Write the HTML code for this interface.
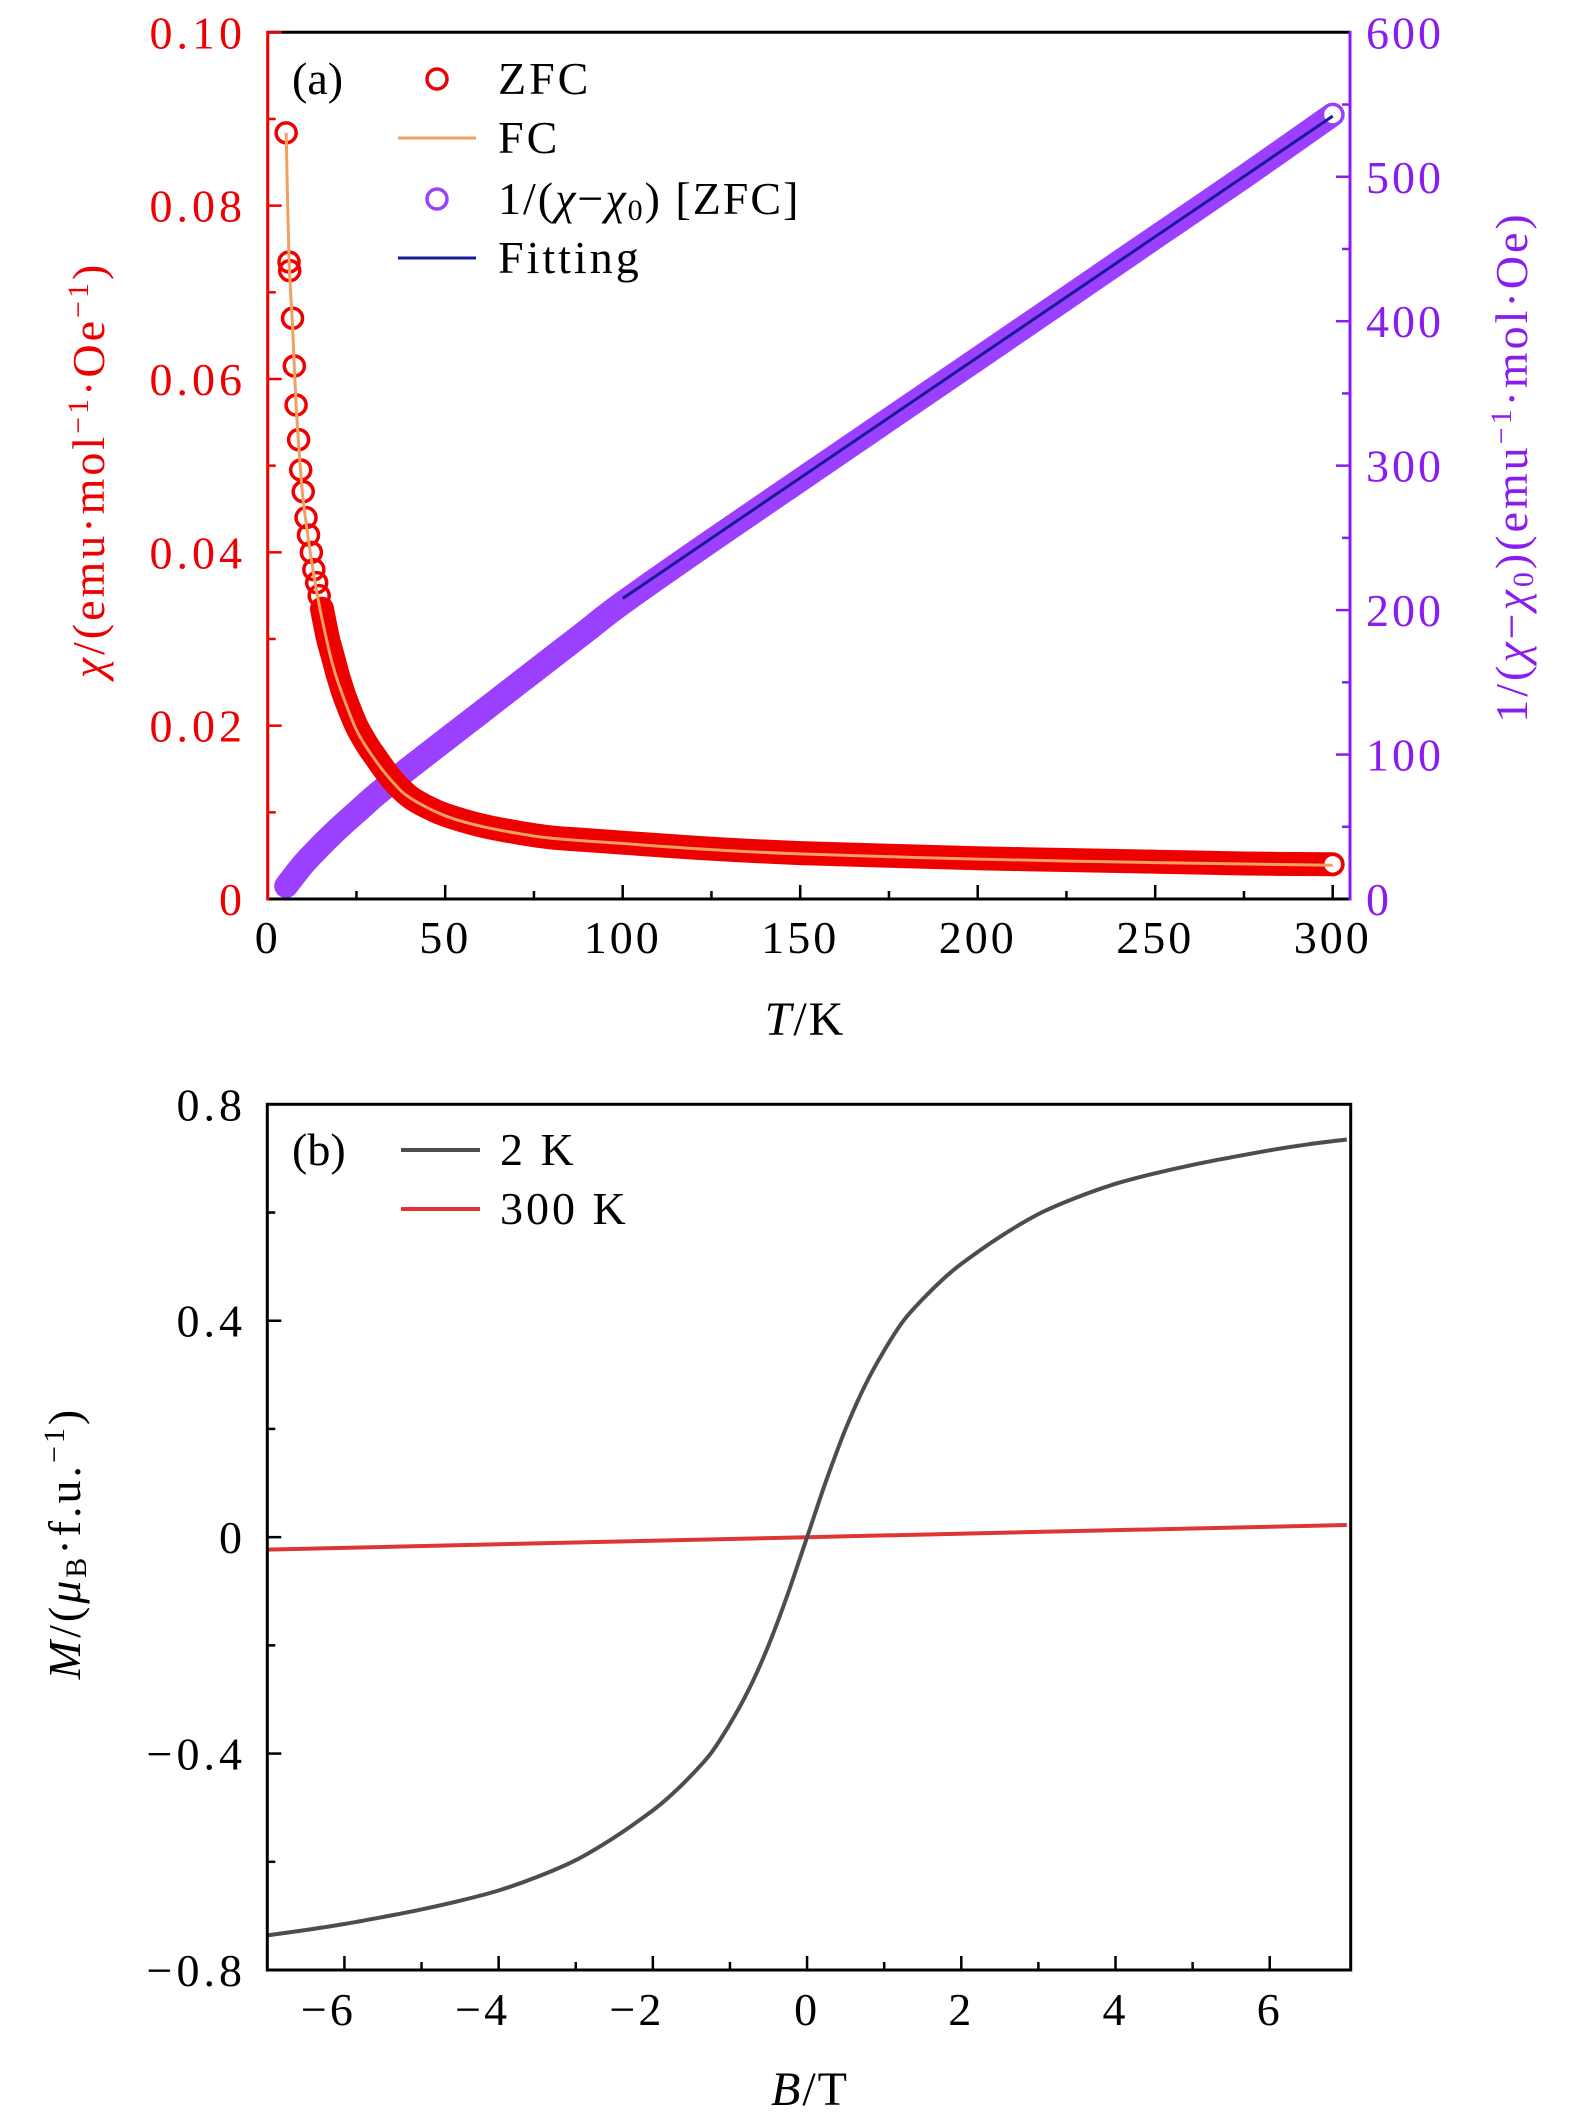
<!DOCTYPE html>
<html><head><meta charset="utf-8"><style>
html,body{margin:0;padding:0;background:#fff;}
svg{display:block;font-family:"Liberation Serif",serif;}
</style></head><body>
<svg id="fig" width="1575" height="2116" viewBox="0 0 1575 2116" xmlns="http://www.w3.org/2000/svg">
<g id="pa"></g>
<g id="pb"></g>
</svg>
<script>
// ---- Panel (a) data ----
const zfcT = [5.2,6,6.2,7,7.5,8,8.7,9.3,10,10.8,11.5,12.3,13,13.8,14.5,15.3,16,17,18,19,20,22,25,28,30,35,40,45,50,60,70,80,90,100,125,150,175,200,225,250,275,300];
const zfcChi = [0.0884,0.0735,0.0725,0.067,0.0615,0.057,0.053,0.0495,0.047,0.044,0.042,0.040,0.038,0.0365,0.035,0.0335,0.032,0.030,0.0285,0.027,0.0255,0.023,0.020,0.0178,0.0166,0.0138,0.0118,0.0106,0.0097,0.0085,0.0077,0.0071,0.0068,0.0065,0.0058,0.0053,0.0050,0.0047,0.0045,0.0043,0.0041,0.0040];
const fcT = [5.2,6,7,8,9,10,12,14,16,18,20,25,30,35,40,50,60,70,80,100,125,150,200,250,300];
const fcChi = [0.0884,0.074,0.066,0.057,0.051,0.046,0.040,0.035,0.031,0.0275,0.0248,0.0195,0.0162,0.0136,0.0117,0.0096,0.0084,0.0076,0.0070,0.0064,0.0057,0.0052,0.0046,0.0042,0.0039];
const invT = [5.2,10,15,20,25,30,35,40,50,60,70,80,90,100,125,150,175,200,225,250,275,300];
const invVal = [9,24,37,49,60,71,81,91,110,129,148,167,186,205,248,290,332,374,416,458,500,543];
const fitT = [100,300];
const fitVal = [208,542];
const xTicksA = [0,50,100,150,200,250,300];
const yTicksA = [0,0.02,0.04,0.06,0.08,0.10];
const yTickLabelsA = ["0","0.02","0.04","0.06","0.08","0.10"];
const y2TicksA = [0,100,200,300,400,500,600];
// ---- Panel (b) data ----
const b2B = [-7,-6.5,-6,-5.5,-5,-4.5,-4,-3.5,-3,-2.5,-2,-1.75,-1.5,-1.25,-1,-0.75,-0.5,-0.25,0,0.25,0.5,0.75,1,1.25,1.5,1.75,2,2.5,3,3.5,4,4.5,5,5.5,6,6.5,7];
const b2M = [-0.736,-0.726,-0.715,-0.702,-0.688,-0.672,-0.653,-0.628,-0.597,-0.555,-0.505,-0.475,-0.44,-0.40,-0.345,-0.28,-0.20,-0.105,0,0.105,0.20,0.28,0.345,0.40,0.44,0.475,0.505,0.555,0.597,0.628,0.653,0.672,0.688,0.702,0.715,0.726,0.735];
const b300B = [-7,0,7];
const b300M = [-0.023,0,0.0225];
const xTicksB = [-6,-4,-2,0,2,4,6];
const xTickLabelsB = ["\u22126","\u22124","\u22122","0","2","4","6"];
const yTicksB = [-0.8,-0.4,0,0.4,0.8];
const yTickLabelsB = ["\u22120.8","\u22120.4","0","0.4","0.8"];

const NS = "http://www.w3.org/2000/svg";
function mk(parent, tag, attrs){const e=document.createElementNS(NS,tag);for(const k in attrs)e.setAttribute(k,attrs[k]);parent.appendChild(e);return e;}
function smooth(pts){
  if(pts.length<3){return pts.map((p,i)=>(i?"L":"M")+p[0].toFixed(1)+","+p[1].toFixed(1)).join("");}
  let d="M"+pts[0][0].toFixed(1)+","+pts[0][1].toFixed(1);
  for(let i=0;i<pts.length-1;i++){
    const p0=pts[Math.max(0,i-1)],p1=pts[i],p2=pts[i+1],p3=pts[Math.min(pts.length-1,i+2)];
    const c1=[p1[0]+(p2[0]-p0[0])/6,p1[1]+(p2[1]-p0[1])/6];
    const c2=[p2[0]-(p3[0]-p1[0])/6,p2[1]-(p3[1]-p1[1])/6];
    d+="C"+c1[0].toFixed(1)+","+c1[1].toFixed(1)+" "+c2[0].toFixed(1)+","+c2[1].toFixed(1)+" "+p2[0].toFixed(1)+","+p2[1].toFixed(1);
  }
  return d;
}

const aL=267.7,aR=1350,aT=32.3,aB=899;
const ax=t=>aL+t*(1332.7-267.7)/300;
const ay=v=>aB-v*(aB-aT)/0.1;
const ay2=v=>aB-v*(aB-aT)/600;
const RED="#ee0000",PUR="#8a1cf0",PURF="#9b40ff";
const pa=document.getElementById('pa');

let e=mk(pa,"path",{d:smooth(invT.map((t,i)=>[ax(t),ay2(invVal[i])])),fill:"none",stroke:PURF,"stroke-width":24,"stroke-linecap":"round","stroke-linejoin":"round"});


e=mk(pa,"circle",{cx:ax(invT[invT.length-1]),cy:ay2(invVal[invVal.length-1]),r:10,fill:"#fff",stroke:PURF,"stroke-width":3});


e=mk(pa,"path",{d:smooth(fitT.map((t,i)=>[ax(t),ay2(fitVal[i])])),fill:"none",stroke:"#1a1a99","stroke-width":3});


const bandPts=[];zfcT.forEach((t,i)=>{if(t>=15)bandPts.push([ax(t),ay(zfcChi[i])]);});
e=mk(pa,"path",{d:smooth(bandPts),fill:"none",stroke:RED,"stroke-width":24,"stroke-linecap":"round","stroke-linejoin":"round"});


zfcT.forEach((t,i)=>{if(t<17||i===zfcT.length-1){const c=mk(pa,"circle",{cx:ax(t),cy:ay(zfcChi[i]),r:10,fill:i===zfcT.length-1?"#fff":"none",stroke:RED,"stroke-width":3.5});

}});
e=mk(pa,"path",{d:smooth(fcT.map((t,i)=>[ax(t),ay(fcChi[i])])),fill:"none",stroke:"#f0a060","stroke-width":3});



e=mk(pa,"line",{x1:aL,y1:aT,x2:aR,y2:aT,stroke:"#000","stroke-width":3});


e=mk(pa,"line",{x1:aL,y1:aB,x2:aR,y2:aB,stroke:"#000","stroke-width":3});


e=mk(pa,"line",{x1:aL,y1:aT-1.5,x2:aL,y2:aB+1.5,stroke:RED,"stroke-width":3});


e=mk(pa,"line",{x1:aR,y1:aT-1.5,x2:aR,y2:aB+1.5,stroke:PUR,"stroke-width":3});


for(let t=25;t<305;t+=25){const mj=(t%50===0);mk(pa,"line",{x1:ax(t),y1:aB,x2:ax(t),y2:aB-(mj?14:8),stroke:"#000","stroke-width":2.5});}
xTicksA.forEach(t=>{const tx=mk(pa,"text",{x:ax(t),y:953,"text-anchor":"middle","font-size":46,"letter-spacing":3});tx.textContent=t;

});
for(let v=0.01;v<0.1;v+=0.01){const mj=Math.round(v*100)%2===0;mk(pa,"line",{x1:aL,y1:ay(v),x2:aL+(mj?14:8),y2:ay(v),stroke:RED,"stroke-width":2.5});}
yTicksA.forEach((v,i)=>{const tx=mk(pa,"text",{x:246,y:ay(v)+16,"text-anchor":"end","font-size":46,"letter-spacing":4,fill:RED});tx.textContent=yTickLabelsA[i];

});
for(let v=50;v<600;v+=50){const mj=v%100===0;mk(pa,"line",{x1:aR,y1:ay2(v),x2:aR-(mj?14:8),y2:ay2(v),stroke:PUR,"stroke-width":2.5});}
y2TicksA.forEach(v=>{const tx=mk(pa,"text",{x:1366,y:ay2(v)+16,"text-anchor":"start","font-size":46,"letter-spacing":3,fill:PUR});tx.textContent=v;

});

const bL=267.3,bR=1350.7,bT=1104.3,bB=1970;
const bx=v=>bL+(v+7)*(bR-bL)/14.05;
const by=v=>bT+(0.8-v)*(bB-bT)/1.6;
const pb=document.getElementById('pb');
e=mk(pb,"path",{d:smooth(b300B.map((v,i)=>[bx(v),by(b300M[i])])),fill:"none",stroke:"#e03535","stroke-width":4});


e=mk(pb,"path",{d:smooth(b2B.map((v,i)=>[bx(v),by(b2M[i])])),fill:"none",stroke:"#4d4d4d","stroke-width":4,"stroke-linejoin":"round"});


e=mk(pb,"rect",{x:bL,y:bT,width:bR-bL,height:bB-bT,fill:"none",stroke:"#000","stroke-width":3});


for(let v=-6;v<=6;v+=1){const mj=v%2===0;mk(pb,"line",{x1:bx(v),y1:bB,x2:bx(v),y2:bB-(mj?14:8),stroke:"#000","stroke-width":2.5});}
xTicksB.forEach((v,i)=>{const tx=mk(pb,"text",{x:bx(v)-(v<0?16:0),y:2025,"text-anchor":"middle","font-size":46,"letter-spacing":3});tx.textContent=xTickLabelsB[i];

});
for(let k=-3;k<=3;k++){const v=k*0.2;const mj=k%2===0;mk(pb,"line",{x1:bL,y1:by(v),x2:bL+(mj?14:8),y2:by(v),stroke:"#000","stroke-width":2.5});}
yTicksB.forEach((v,i)=>{const tx=mk(pb,"text",{x:246,y:by(v)+16,"text-anchor":"end","font-size":46,"letter-spacing":4});tx.textContent=yTickLabelsB[i];

});
</script>
<svg style="position:absolute;left:0;top:0" width="1575" height="2116" viewBox="0 0 1575 2116" xmlns="http://www.w3.org/2000/svg" font-family="Liberation Serif, serif">
  <text x="292" y="94" font-size="46">(a)</text>
  <circle cx="437" cy="79" r="10" fill="none" stroke="#ee0000" stroke-width="3.5"/>
  <text x="498" y="94" font-size="46" letter-spacing="3">ZFC</text>
  <line x1="398" y1="138" x2="476" y2="138" stroke="#f0a060" stroke-width="3"/>
  <text x="498" y="153" font-size="46" letter-spacing="3">FC</text>
  <circle cx="437" cy="199" r="10" fill="none" stroke="#9b40ff" stroke-width="3.5"/>
  <text x="498" y="214" font-size="46" letter-spacing="2">1/(<tspan font-style="italic">χ</tspan>−<tspan font-style="italic">χ</tspan><tspan font-size="30" dy="6">0</tspan><tspan dy="-6">) [ZFC]</tspan></text>
  <line x1="398" y1="258" x2="476" y2="258" stroke="#1a1a99" stroke-width="3"/>
  <text x="498" y="273" font-size="46" letter-spacing="3">Fitting</text>
  <text x="805" y="1035" font-size="48" text-anchor="middle" letter-spacing="2"><tspan font-style="italic">T</tspan>/K</text>
  <text transform="translate(104,470) rotate(-90)" font-size="46" letter-spacing="3" text-anchor="middle" fill="#ee0000"><tspan font-style="italic">χ</tspan>/(emu·mol<tspan font-size="30" dy="-16">−1</tspan><tspan dy="16">·Oe</tspan><tspan font-size="30" dy="-16">−1</tspan><tspan dy="16">)</tspan></text>
  <text transform="translate(1527,467) rotate(-90)" font-size="46" letter-spacing="3" text-anchor="middle" fill="#8a1cf0">1/(<tspan font-style="italic">χ</tspan>−<tspan font-style="italic">χ</tspan><tspan font-size="30" dy="6">0</tspan><tspan dy="-6">)(emu</tspan><tspan font-size="30" dy="-16">−1</tspan><tspan dy="16">·mol·Oe)</tspan></text>
  <text x="292" y="1165" font-size="46">(b)</text>
  <line x1="401" y1="1150" x2="480" y2="1150" stroke="#4d4d4d" stroke-width="4"/>
  <text x="500" y="1165" font-size="46" letter-spacing="3">2 K</text>
  <line x1="401" y1="1209" x2="480" y2="1209" stroke="#e03535" stroke-width="4"/>
  <text x="500" y="1224" font-size="46" letter-spacing="3">300 K</text>
  <text x="810" y="2105" font-size="48" text-anchor="middle" letter-spacing="2"><tspan font-style="italic">B</tspan>/T</text>
  <text transform="translate(80,1543) rotate(-90)" font-size="46" letter-spacing="3" text-anchor="middle"><tspan font-style="italic">M</tspan>/(<tspan font-style="italic">μ</tspan><tspan font-size="30" dy="6">B</tspan><tspan dy="-6">·f.u.</tspan><tspan font-size="30" dy="-16">−1</tspan><tspan dy="16">)</tspan></text>
</svg>
</body></html>
